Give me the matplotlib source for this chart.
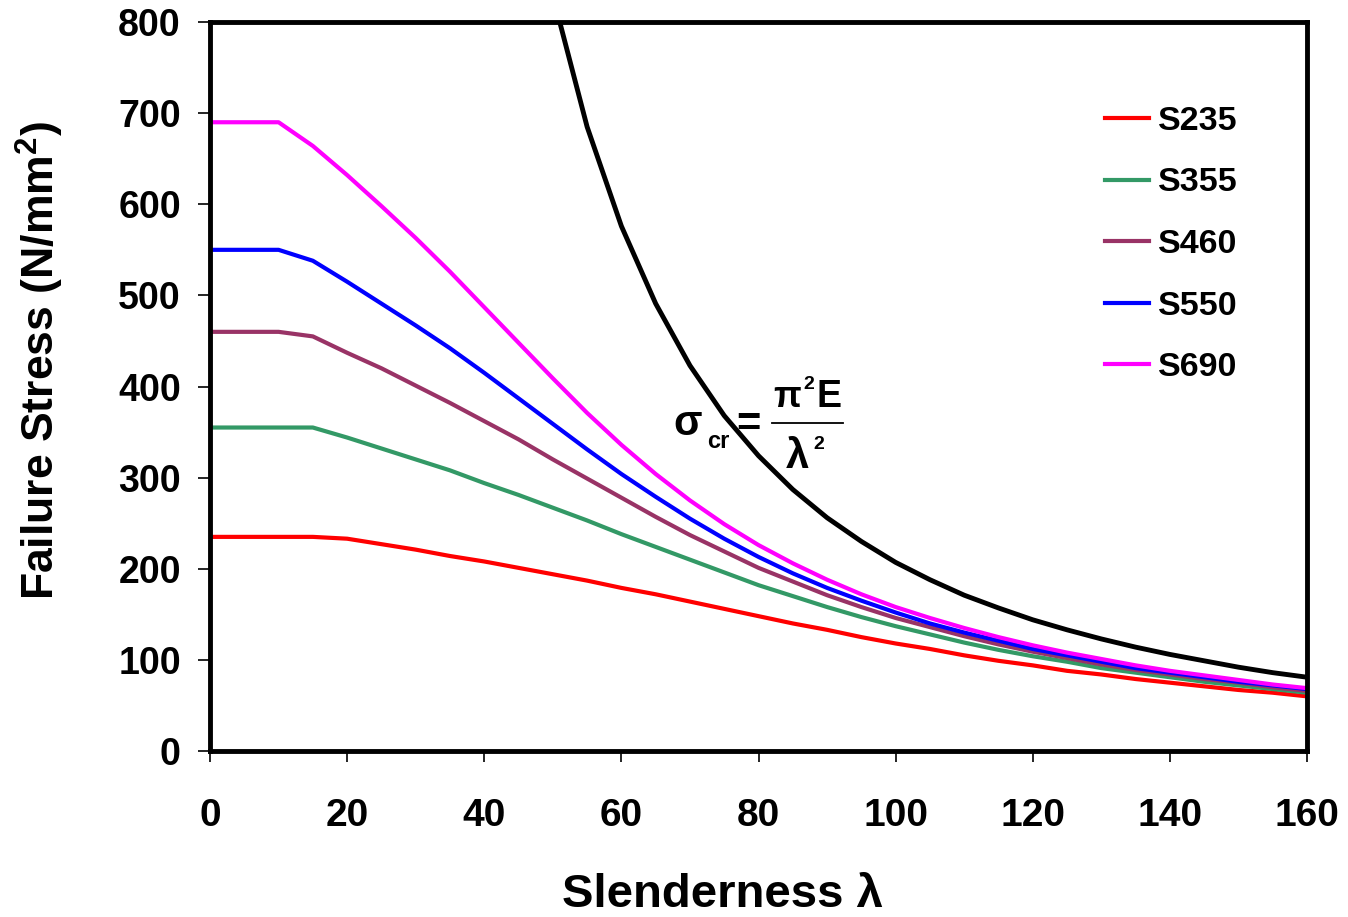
import matplotlib
matplotlib.use('Agg')
import matplotlib.pyplot as plt

plt.rcParams['font.family'] = ['Liberation Sans', 'DejaVu Sans']
plt.rcParams['font.weight'] = 'bold'
plt.rcParams['mathtext.fontset'] = 'custom'
plt.rcParams['mathtext.rm'] = 'Liberation Sans:bold'
plt.rcParams['mathtext.it'] = 'Liberation Sans:bold'
plt.rcParams['mathtext.bf'] = 'Liberation Sans:bold'

# slenderness values (every 5)
slenderness = list(range(0, 165, 5))

# failure stress for each steel grade (N/mm2)
s235 = [235, 235, 235, 235, 233, 227, 221, 214, 208, 201, 194, 187, 179, 172, 164, 156,
        148, 140, 133, 125, 118, 112, 105, 99, 94, 88, 84, 79, 75, 71, 67, 64, 60]
s355 = [355, 355, 355, 355, 344, 332, 320, 308, 294, 281, 267, 253, 238, 224, 210, 196,
        182, 170, 158, 147, 137, 128, 119, 111, 104, 98, 91, 86, 81, 76, 72, 68, 64]
s460 = [460, 460, 460, 455, 437, 420, 401, 382, 362, 342, 320, 299, 278, 257, 237, 219,
        201, 186, 171, 158, 146, 136, 126, 117, 109, 102, 95, 89, 84, 79, 75, 70, 66]
s550 = [550, 550, 550, 538, 515, 491, 467, 442, 415, 387, 359, 331, 304, 279, 255, 233,
        213, 195, 179, 165, 152, 140, 130, 121, 112, 105, 98, 91, 86, 81, 76, 72, 68]
s690 = [690, 690, 690, 664, 632, 598, 563, 526, 487, 448, 409, 371, 336, 304, 275, 249,
        226, 206, 188, 172, 158, 146, 135, 125, 116, 108, 101, 94, 88, 83, 78, 73, 69]

# Euler critical stress
euler_x = list(range(50, 165, 5))
euler_y = [829, 685, 576, 491, 423, 368, 324, 287, 256, 230, 207, 188, 171, 157, 144,
           133, 123, 114, 106, 99, 92, 86, 81]

grades = ['S235', 'S355', 'S460', 'S550', 'S690']
series = [s235, s355, s460, s550, s690]
colors = ['#FF0000', '#339966', '#993366', '#0000FF', '#FF00FF']

fig = plt.figure(figsize=(13.48, 9.17), dpi=100)
ax = fig.add_axes([0.1558, 0.181, 0.8138, 0.795])

ax.plot(euler_x, euler_y, color='black', lw=3.5, zorder=3)
for name, vals, c in zip(grades, series, colors):
    ax.plot(slenderness, vals, color=c, lw=3, label=name, zorder=3)

ax.set_xlim(0, 160)
ax.set_ylim(0, 800)
ax.set_xticks(range(0, 161, 20))
ax.set_yticks(range(0, 801, 100))

for sp in ax.spines.values():
    sp.set_linewidth(3.5)
    sp.set_zorder(5)
ax.tick_params(axis='x', direction='out', length=8, width=1.2, pad=26, labelsize=28)
ax.tick_params(axis='y', direction='out', length=9, width=1.2, pad=12, labelsize=27)

ax.set_xlabel('Slenderness λ', fontsize=34, fontweight='bold')
ax.xaxis.set_label_coords(0.467, -0.197)
ax.set_ylabel('Failure Stress (N/mm$^2$)', fontsize=32, fontweight='bold')
ax.yaxis.set_label_coords(-0.155, 0.536)
ax.xaxis.label.set_va('center')
ax.yaxis.label.set_va('center')

# Euler formula: sigma_cr = pi^2 E / lambda^2
ax.text(69.7, 346.8, 'σ', fontsize=30, ha='center', va='baseline', zorder=2)
ax.text(72.5, 332.5, 'cr', fontsize=17, ha='left', va='baseline', zorder=2)
ax.text(78.5, 357.7, '=', fontsize=30, ha='center', va='center', zorder=2)
ax.text(82.2, 377.5, 'π', fontsize=26, ha='left', va='baseline', zorder=2)
ax.text(86.6, 397.0, '2', fontsize=14, ha='left', va='baseline', zorder=2)
ax.text(88.4, 377.5, 'E', fontsize=27, ha='left', va='baseline', zorder=2)
ax.plot([82.0, 92.3], [359.9, 359.9], color='black', lw=1.3, zorder=2)
ax.text(84.0, 310.5, 'λ', fontsize=30, ha='left', va='baseline', zorder=2)
ax.text(88.0, 331.5, '2', fontsize=14, ha='left', va='baseline', zorder=2)

leg = ax.legend(loc='upper left', bbox_to_anchor=(0.816, 0.885), frameon=False,
                fontsize=24.5, handlelength=1.3, handletextpad=0.25, labelspacing=0.9,
                borderpad=0, borderaxespad=0)

fig.savefig('out.png', dpi=100)
